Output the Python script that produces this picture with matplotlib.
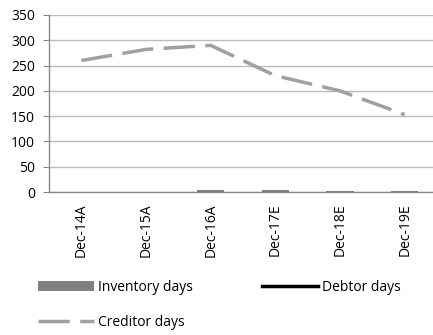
import numpy as np
import matplotlib
matplotlib.use("Agg")
import matplotlib.pyplot as plt

periods = ["Dec-14A", "Dec-15A", "Dec-16A", "Dec-17E", "Dec-18E", "Dec-19E"]
inventory_days = [np.nan, np.nan, 3, 3, 2, 2]
debtor_days = [np.nan] * 6
creditor_days = [260, 282, 290, 230, 200, 153]

plt.rcParams["font.family"] = ["Open Sans", "DejaVu Sans"]
plt.rcParams["font.size"] = 10

W, H = 433, 335
fig = plt.figure(figsize=(W / 100, H / 100), dpi=100)
ax = fig.add_axes([49 / W, (H - 192) / H, 388 / W, 177 / H])

x = np.arange(len(periods))
bars = ax.bar(x, inventory_days, width=0.42, color="#808080", label="Inventory days", zorder=3)
deb, = ax.plot(x, debtor_days, color="black", lw=2.5, label="Debtor days", zorder=4)
cred, = ax.plot(x, creditor_days, color="#a0a0a0", lw=2.5, dashes=(9, 3),
                label="Creditor days", zorder=4)

ax.set_xlim(-0.5, 5.5)
ax.set_ylim(0, 350)
ax.set_yticks(range(0, 351, 50))
ax.set_xticks(x)
ax.set_xticklabels(periods, rotation=90)
ax.tick_params(axis="x", length=0, pad=8)
ax.tick_params(axis="y", length=4, color="#888888", pad=6)
ax.grid(axis="y", color="#bbbbbb", lw=1, zorder=0)
for s in ["top", "right"]:
    ax.spines[s].set_visible(False)
for s in ["left", "bottom"]:
    ax.spines[s].set_color("#888888")
    ax.spines[s].set_linewidth(1)
ax.spines["bottom"].set_zorder(2)

# chart heading sits above the top edge, only its descenders show
fig.text(0.03, 1 + 4 / H, "Working capital (days)", va="baseline", fontsize=10)

# legend fills column by column: inventory/creditor on the left, debtor on the right
ax.legend([bars, cred, deb], ["Inventory days", "Creditor days", "Debtor days"],
          loc="upper left", bbox_to_anchor=(-0.028, -0.497), ncol=2, frameon=False,
          handlelength=4, handleheight=0.8, columnspacing=5, labelspacing=1.45,
          handletextpad=0.3, borderaxespad=0, borderpad=0)

fig.savefig("out.png", dpi=100)
